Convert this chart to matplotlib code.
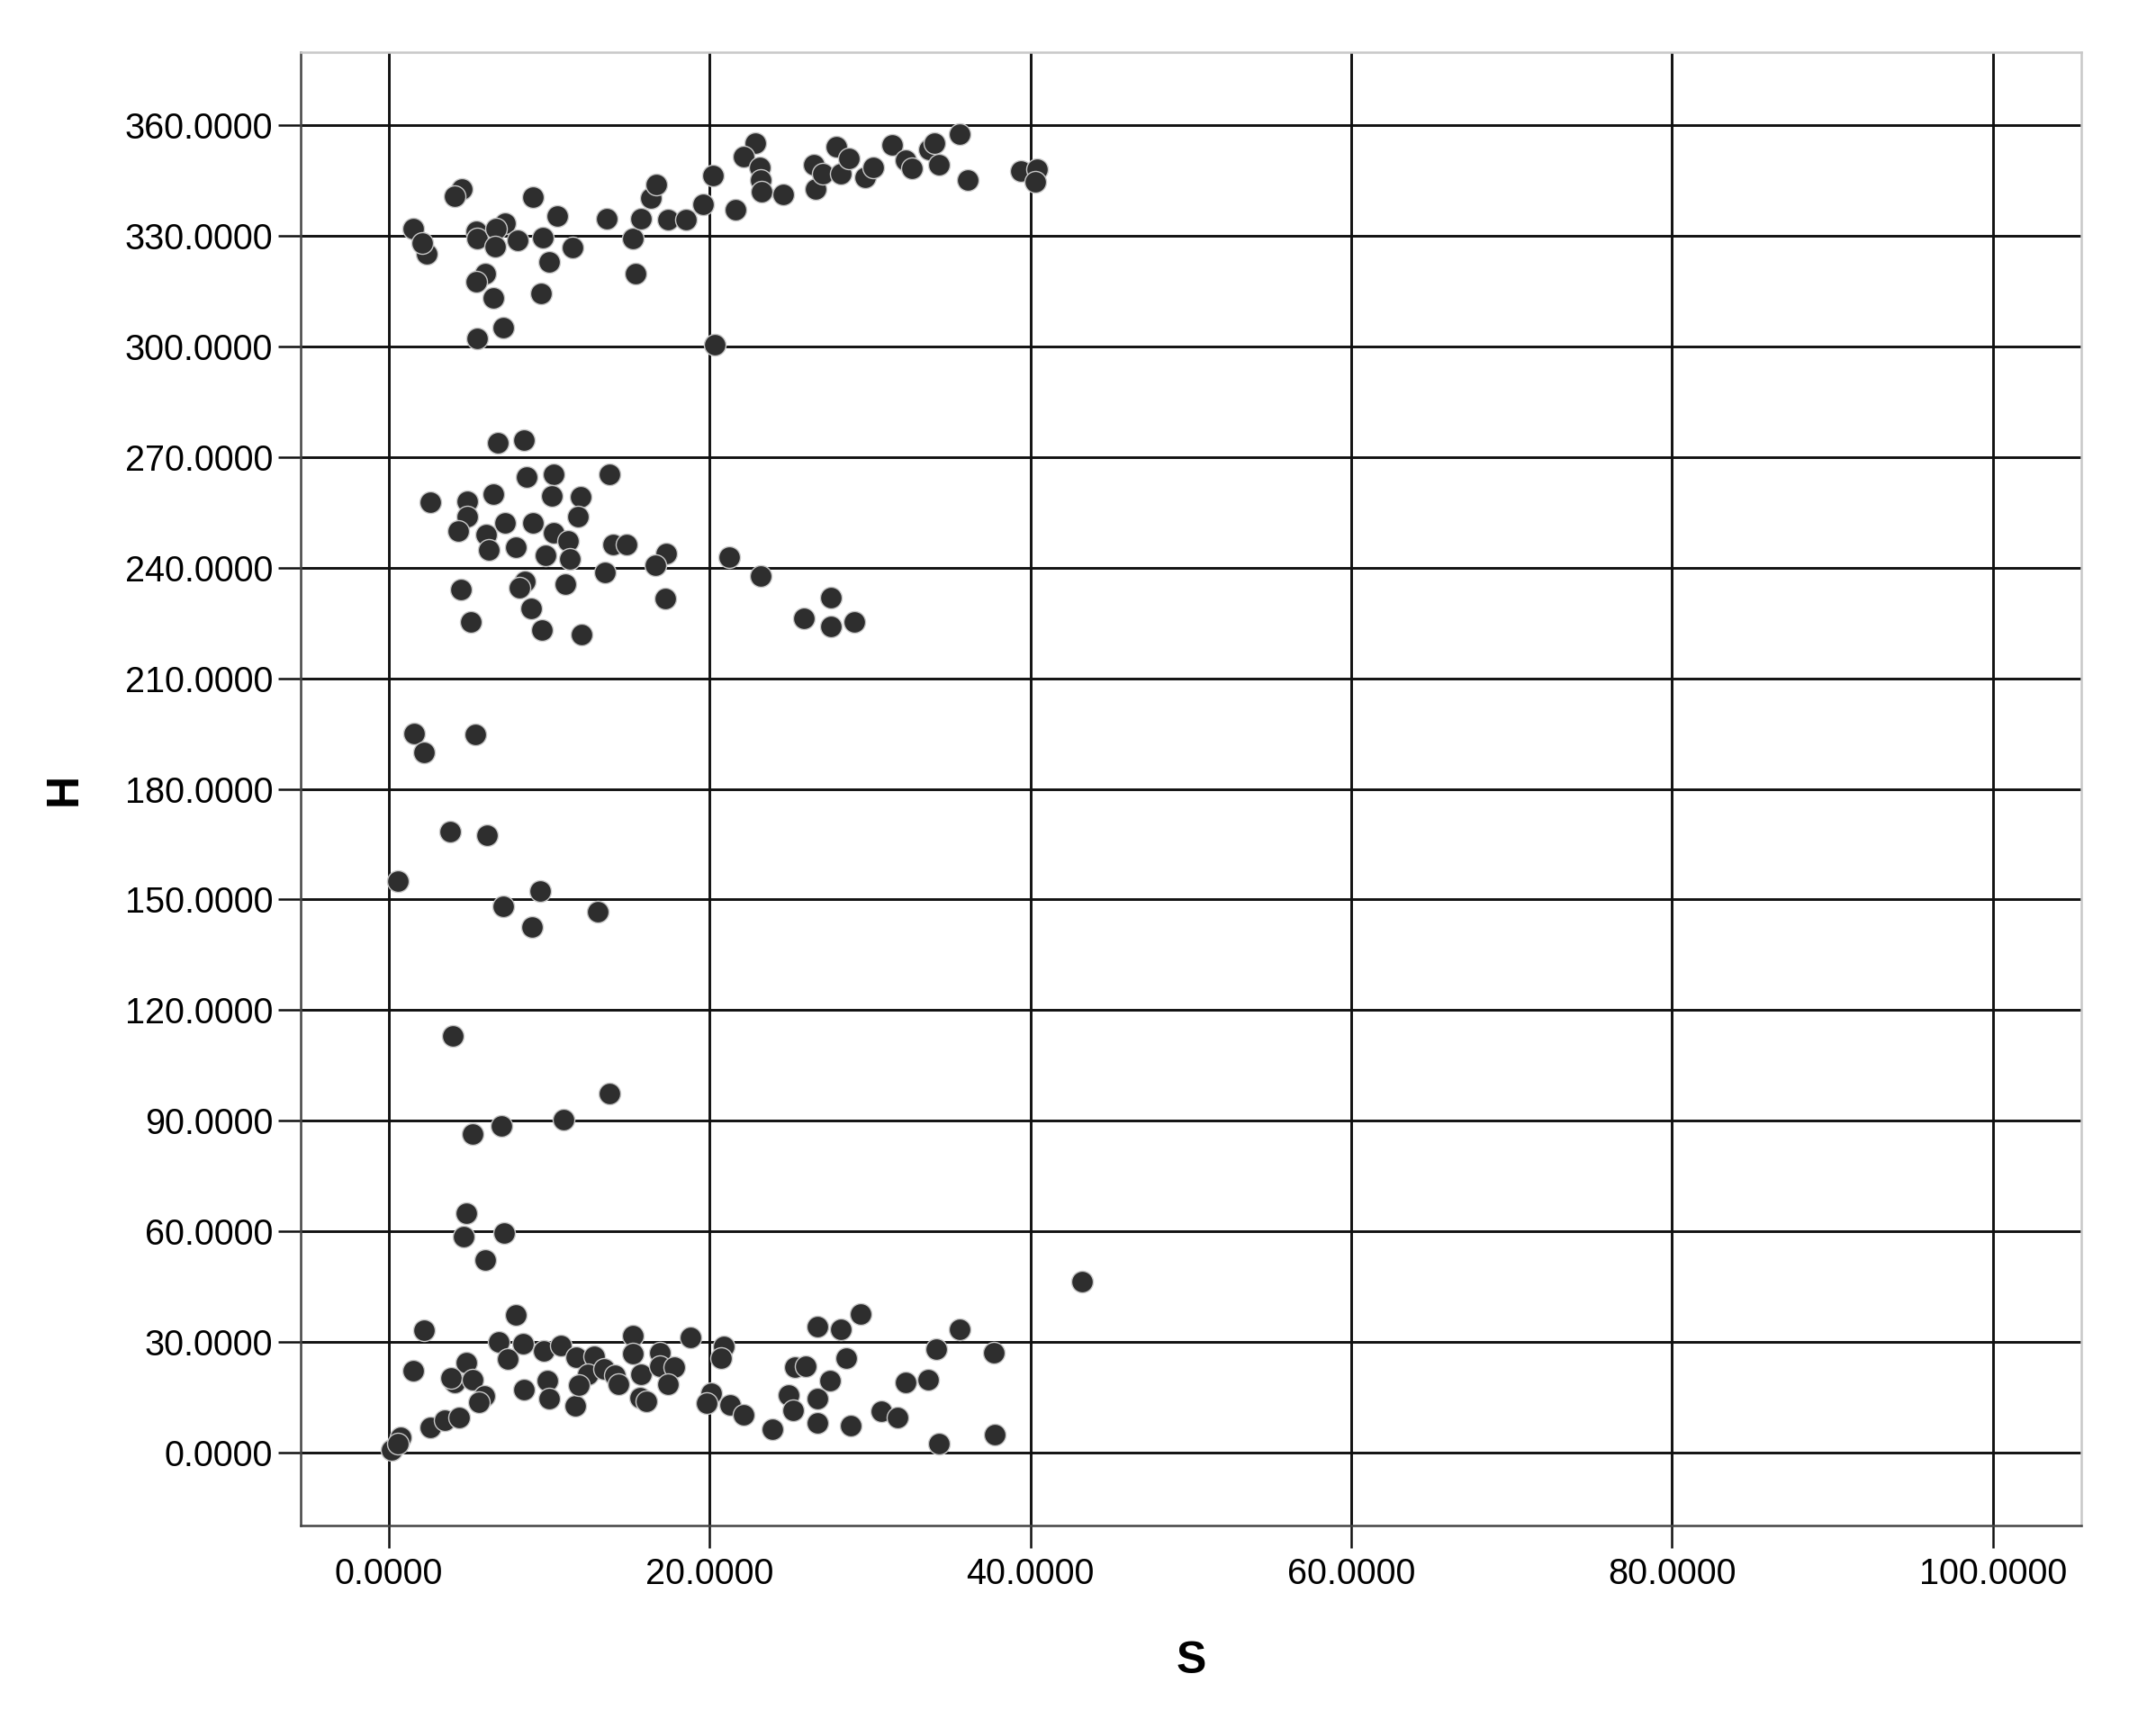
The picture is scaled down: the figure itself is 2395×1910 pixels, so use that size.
import matplotlib.pyplot as plt
from matplotlib.ticker import FormatStrFormatter

# upper cluster (H around 300-360)
s_top = [4.56, 4.1, 8.97, 1.52, 2.37, 2.07, 5.47, 5.53, 7.23, 6.7, 6.63, 8.05, 9.6, 10.5, 11.46,
         9.97, 6.0, 5.47, 6.53, 9.48, 7.14, 5.53, 13.6, 15.2, 15.4, 15.74, 17.4, 18.5, 16.35, 16.65,
         19.6, 20.2, 21.6, 20.3, 22.86, 22.1, 23.1, 23.16, 23.25, 24.6, 26.5, 26.6, 27.05, 27.9, 28.2,
         28.7, 29.7, 30.2, 31.4, 32.2, 32.6, 33.7, 34.0, 34.3, 35.6, 36.1, 39.4, 40.4, 40.3]
h_top = [342.8, 340.7, 340.5, 332.0, 325.2, 328.0, 331.3, 329.3, 333.4, 332.1, 327.2, 328.9, 329.5, 335.4, 327.0,
         322.9, 319.7, 317.6, 313.3, 314.5, 305.1, 302.1, 334.8, 329.3, 319.7, 334.6, 334.4, 334.4, 340.3, 344.0,
         338.7, 346.5, 337.2, 300.4, 355.1, 351.6, 348.5, 345.2, 342.0, 341.3, 349.3, 342.8, 346.9, 354.3, 347.0,
         351.0, 346.0, 348.7, 354.7, 350.6, 348.4, 353.4, 355.1, 349.3, 357.7, 345.1, 347.7, 348.1, 344.8]

# middle cluster (H around 220-275)
s_mid = [6.82, 8.45, 8.6, 10.28, 13.78, 10.15, 11.98, 6.52, 2.58, 4.89, 4.89, 7.27, 8.97, 11.78, 4.31,
         6.07, 6.22, 7.9, 10.28, 11.2, 9.77, 11.28, 14.0, 14.8, 17.3, 16.6, 13.5, 21.2, 23.2, 4.5,
         8.47, 8.15, 10.98, 8.9, 17.24, 5.14, 9.57, 12.03, 27.57, 25.9, 27.57, 29.0]
h_mid = [273.8, 274.6, 264.7, 265.3, 265.3, 259.4, 259.2, 260.0, 257.9, 258.1, 253.9, 252.2, 252.2, 253.9, 250.0,
         249.0, 244.9, 245.7, 249.4, 247.3, 243.3, 242.5, 246.4, 246.4, 243.9, 240.8, 238.8, 242.9, 237.7, 234.1,
         236.3, 234.7, 235.5, 229.0, 231.7, 225.3, 223.1, 221.9, 232.0, 226.3, 224.0, 225.2]

# scattered points (H around 45-195)
s_sparse = [1.59, 2.21, 5.39, 3.8, 6.14, 0.56, 7.13, 9.42, 8.91, 13.03, 3.99, 13.73, 5.21, 7.04, 10.92,
            4.83, 4.68, 7.21, 5.99, 43.2]
h_sparse = [195.1, 190.0, 194.9, 168.4, 167.4, 155.1, 148.2, 152.3, 142.6, 146.7, 113.0, 97.4, 86.4, 88.7, 90.3,
            64.9, 58.5, 59.5, 52.1, 46.4]

# lower cluster (H around 0-38)
s_low = [2.22, 7.9, 1.52, 4.86, 4.1, 3.9, 5.2, 5.93, 5.6, 6.84, 8.36, 7.4, 9.67, 10.7, 11.7,
         12.8, 12.4, 13.4, 9.9, 8.45, 9.97, 11.6, 11.85, 14.1, 14.3, 15.2, 15.2, 15.7, 15.65, 16.05,
         16.9, 16.9, 17.8, 17.4, 18.8, 20.9, 20.7, 20.1, 19.8, 21.3, 22.1, 23.9, 26.7, 28.2, 29.4,
         28.5, 25.3, 26.0, 27.5, 24.9, 26.7, 25.2, 26.7, 28.8, 30.7, 31.7, 32.2, 33.6, 34.1, 35.6,
         37.7, 34.3, 37.75, 0.76, 0.15, 2.58, 3.5, 4.4, 0.55]
h_low = [33.1, 37.3, 22.3, 24.3, 19.0, 20.2, 19.8, 15.3, 13.7, 30.0, 29.6, 25.3, 27.6, 29.0, 25.8,
         26.1, 21.2, 22.7, 19.4, 17.0, 14.5, 12.7, 18.2, 21.0, 18.4, 31.8, 26.7, 21.2, 14.9, 13.9,
         27.1, 23.3, 23.1, 18.6, 31.2, 28.8, 25.5, 16.1, 13.3, 12.9, 10.3, 6.4, 34.2, 33.3, 37.5,
         25.5, 23.1, 23.3, 19.4, 15.7, 14.5, 11.4, 8.0, 7.2, 11.3, 9.5, 19.0, 19.8, 28.0, 33.4,
         27.1, 2.3, 4.9, 4.1, 0.7, 6.8, 8.8, 9.5, 2.5]

s_all = s_top + s_mid + s_sparse + s_low
h_all = h_top + h_mid + h_sparse + h_low

x_ticks = [0, 20, 40, 60, 80, 100]
y_ticks = [0, 30, 60, 90, 120, 150, 180, 210, 240, 270, 300, 330, 360]

plt.rcParams['font.family'] = ['Liberation Sans', 'DejaVu Sans']

fig = plt.figure(figsize=(23.95, 19.1), dpi=100)
ax = fig.add_axes([0.1394, 0.1126, 0.8259, 0.8569])

ax.scatter(s_all, h_all, s=300, color='#2e2e2e', edgecolors='#c8c8c8', linewidths=1.0, zorder=3)

ax.set_xlim(-5.5, 105.5)
ax.set_ylim(-19.8, 379.8)
ax.set_xticks(x_ticks)
ax.set_yticks(y_ticks)
ax.xaxis.set_major_formatter(FormatStrFormatter('%.4f'))
ax.yaxis.set_major_formatter(FormatStrFormatter('%.4f'))
ax.grid(True, color='#111111', linewidth=2.1, zorder=1)
ax.set_axisbelow(True)

ax.tick_params(axis='both', direction='out', length=18, width=1.8, color='#111111',
               labelsize=28.5, top=False, right=False)
ax.tick_params(axis='x', pad=7)
ax.tick_params(axis='y', pad=4)

for side in ['left', 'bottom']:
    ax.spines[side].set_color('#444444')
    ax.spines[side].set_linewidth(1.8)
for side in ['top', 'right']:
    ax.spines[side].set_color('#c8c8c8')
    ax.spines[side].set_linewidth(1.8)

ax.set_xlabel('S', fontsize=36, fontweight='bold', labelpad=40)
ax.set_ylabel('H', fontsize=36, fontweight='bold', labelpad=32)

fig.savefig('out.png', dpi=100)
